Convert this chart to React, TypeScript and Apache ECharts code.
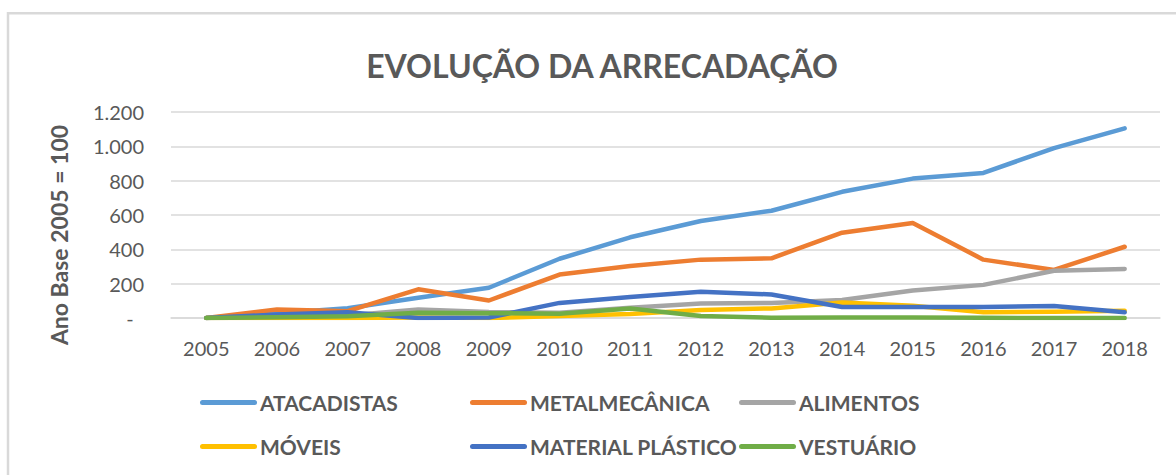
import React, { useEffect, useRef } from "react";
import * as echarts from "echarts";

const YEARS = ["2005", "2006", "2007", "2008", "2009", "2010", "2011", "2012", "2013", "2014", "2015", "2016", "2017", "2018"];
const ATACADISTAS = [0, 28, 57, 118, 176, 345, 470, 565, 625, 735, 812, 845, 990, 1105];
const METALMECANICA = [0, 50, 40, 167, 102, 253, 303, 340, 348, 497, 553, 340, 280, 415];
const ALIMENTOS = [0, 5, 15, 50, 35, 30, 60, 85, 88, 105, 160, 193, 275, 286];
const MOVEIS = [0, 0, 0, 3, 0, 12, 24, 46, 56, 90, 71, 33, 37, 42];
const MATERIAL_PLASTICO = [0, 20, 33, 0, 3, 88, 122, 153, 137, 64, 64, 64, 70, 33];
const VESTUARIO = [0, 5, 10, 30, 28, 25, 55, 12, 2, 3, 3, 1, 0, 0];

const SERIES_NAMES = ["ATACADISTAS", "METALMECÂNICA", "ALIMENTOS", "MÓVEIS", "MATERIAL PLÁSTICO", "VESTUÁRIO"];
const SERIES_DATA = [ATACADISTAS, METALMECANICA, ALIMENTOS, MOVEIS, MATERIAL_PLASTICO, VESTUARIO];
const COLORS = ["#5B9BD5", "#ED7D31", "#A5A5A5", "#FFC000", "#4472C4", "#70AD47"];

const TITLE = "EVOLUÇÃO DA ARRECADAÇÃO";
const Y_NAME = "Ano Base 2005 = 100";

const TEXT = "#595959";
const GRID = "#D9D9D9";

const LEGEND_POS = [
  [200, 392],
  [470, 392],
  [739, 392],
  [200, 436],
  [470, 436],
  [739, 436],
];

function fmt(v: number): string {
  if (v === 0) return "-\u00a0\u00a0";
  return String(v).replace(/\B(?=(\d{3})+(?!\d))/g, ".");
}

export default function App() {
  const ref = useRef<HTMLDivElement>(null);
  useEffect(() => {
    if (!ref.current) return;
    const chart = echarts.init(ref.current, undefined, { renderer: "svg" });
    const option: any = {
      animation: false,
      backgroundColor: "#ffffff",
      grid: { left: 171, right: 16, top: 112, bottom: 157, containLabel: false },
      xAxis: {
        type: "category",
        data: YEARS,
        boundaryGap: true,
        axisLine: { show: true, lineStyle: { color: GRID, width: 1.5 } },
        axisTick: { show: false },
        axisLabel: { color: TEXT, fontFamily: "Lato", fontSize: 20, margin: 20 },
      },
      yAxis: {
        type: "value",
        min: 0,
        max: 1200,
        interval: 200,
        axisLine: { show: false },
        axisTick: { show: false },
        splitLine: { lineStyle: { color: GRID, width: 1.5 } },
        axisLabel: { color: TEXT, fontFamily: "Lato", fontSize: 20, margin: 27, formatter: fmt },
      },
      legend: SERIES_NAMES.map((n, i) => ({
        data: [n],
        left: LEGEND_POS[i][0],
        top: LEGEND_POS[i][1],
        padding: 0,
        itemWidth: 57,
        itemHeight: 5,
        icon: "path://M2.5,0H54.5A2.5,2.5,0,0,1,54.5,5H2.5A2.5,2.5,0,0,1,2.5,0Z",
        itemStyle: { borderWidth: 0 },
        textStyle: { color: TEXT, fontFamily: "Lato", fontWeight: "bold", fontSize: 21, padding: [0, 0, 0, -2] },
      })),
      series: SERIES_NAMES.map((n, i) => ({
        name: n,
        type: "line",
        data: SERIES_DATA[i],
        showSymbol: false,
        symbol: "none",
        color: COLORS[i],
        lineStyle: { color: COLORS[i], width: 4.5, cap: "round", join: "round" },
      })),
      graphic: [
        {
          type: "polyline",
          shape: { points: [[8, 475], [8, 13.3], [1176, 13.3]] },
          style: { stroke: GRID, lineWidth: 2.5, fill: null },
        },
        {
          type: "text",
          x: 602,
          y: 65,
          style: {
            text: TITLE,
            textAlign: "center",
            textVerticalAlign: "middle",
            fill: TEXT,
            font: "bold 32px Lato",
          },
        },
        {
          type: "text",
          x: 59,
          y: 235,
          rotation: Math.PI / 2,
          style: {
            text: Y_NAME,
            textAlign: "center",
            textVerticalAlign: "middle",
            fill: TEXT,
            font: "bold 23px Lato",
          },
        },
      ],
    };
    chart.setOption(option);
    return () => chart.dispose();
  }, []);
  return (
    <div
      ref={ref}
      style={{ position: "fixed", left: 0, top: 0, width: 1176, height: 475, background: "#fff" }}
    />
  );
}
